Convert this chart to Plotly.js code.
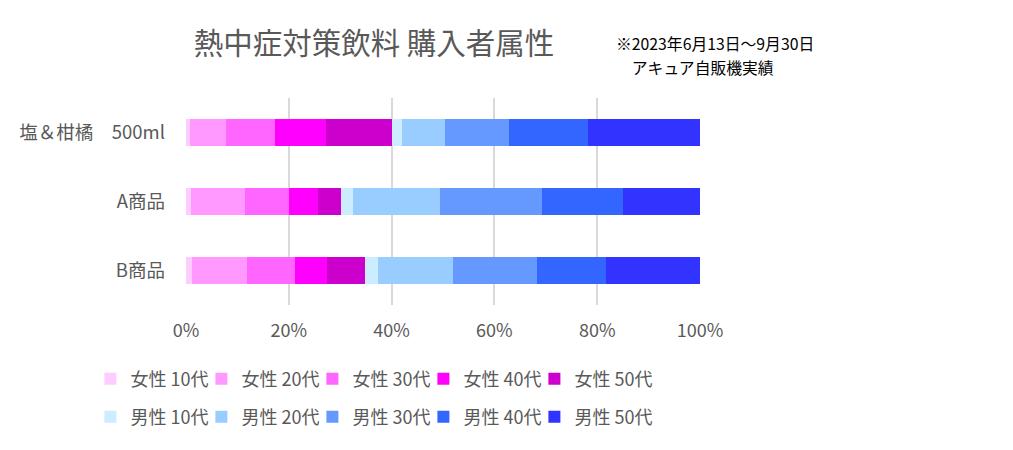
<!DOCTYPE html>
<html><head><meta charset="utf-8">
<script src="https://cdn.plot.ly/plotly-3.0.1.min.js"></script>
<style>html,body{margin:0;padding:0;background:#fff;}#chart{width:1013px;height:450px;}</style>
</head><body><div id="chart"></div>
<script>
const categories = ["塩＆柑橘　500ml", "A商品", "B商品"];
const seriesNames = ["女性 10代","女性 20代","女性 30代","女性 40代","女性 50代","男性 10代","男性 20代","男性 30代","男性 40代","男性 50代"];
const f10 = [0.7, 0.9, 1.2];
const f20 = [7.0, 10.6, 10.7];
const f30 = [9.7, 8.6, 9.3];
const f40 = [9.9, 5.6, 6.3];
const f50 = [12.8, 4.5, 7.4];
const m10 = [2.0, 2.2, 2.4];
const m20 = [8.2, 17.1, 14.6];
const m30 = [12.6, 19.7, 16.3];
const m40 = [15.4, 15.8, 13.6];
const m50 = [21.7, 15.0, 18.2];
const xTicks = [0, 20, 40, 60, 80, 100];
const xTickLabels = ["0%", "20%", "40%", "60%", "80%", "100%"];
const noteLines = ["※2023年6月13日～9月30日", "　アキュア自販機実績"];

const seriesValues = [f10,f20,f30,f40,f50,m10,m20,m30,m40,m50];
const colors = ["#FFCCFF","#FF99FF","#FF66FF","#FF00FF","#CC00CC","#CCECFF","#99CCFF","#6699FF","#3366FF","#3333FF"];

const traces = seriesValues.map((vals, i) => ({
  type: 'bar', orientation: 'h',
  x: vals, y: categories, name: seriesNames[i],
  marker: {color: colors[i], line: {width: 0}},
  legend: i < 5 ? 'legend' : 'legend2',
  hoverinfo: 'skip'
}));
// invisible zero-length spacer entries so the last legend label is not clipped
['legend', 'legend2'].forEach(lg => traces.push({
  type: 'bar', orientation: 'h', x: [0], y: [categories[0]], name: ' ',
  marker: {color: 'rgba(0,0,0,0)', line: {width: 0}}, legend: lg, hoverinfo: 'skip', showlegend: true
}));

const font = "'Noto Sans CJK JP', 'Noto Sans', sans-serif";
const legendCommon = {
  orientation: 'h', xanchor: 'left', yanchor: 'middle',
  font: {family: font, size: 18, color: '#595959'},
  entrywidth: 66, entrywidthmode: 'pixels',
  itemclick: false, itemdoubleclick: false, traceorder: 'normal',
  bgcolor: 'rgba(0,0,0,0)'
};

const T = 98, PH = 207;
const layout = {
  width: 1013, height: 450,
  margin: {l: 186, r: 313, t: T, b: 450 - T - PH},
  paper_bgcolor: '#fff', plot_bgcolor: '#fff',
  barmode: 'stack', bargap: 0.61,
  font: {family: font, color: '#595959'},
  title: {text: '熱中症対策飲料 購入者属性', font: {family: font, size: 29.5, color: '#595959'},
          x: 374/1013, xanchor: 'center', y: 1 - 44/450, yanchor: 'middle'},
  xaxis: {range: [0, 100], tickmode: 'array', tickvals: xTicks, ticktext: xTickLabels, showgrid: true,
          gridcolor: '#d9d9d9', gridwidth: 2, zeroline: false, showline: false,
          tickfont: {family: font, size: 18, color: '#595959'}, ticks: '', ticklabelstandoff: 13,
          fixedrange: true},
  yaxis: {autorange: 'reversed', showgrid: false, zeroline: false, showline: false, ticks: '',
          tickfont: {family: font, size: 18.5, color: '#595959'}, ticklabelstandoff: 20, fixedrange: true},
  legend: Object.assign({}, legendCommon, {x: -0.186, y: 1 - (379-T)/PH}),
  legend2: Object.assign({}, legendCommon, {x: -0.186, y: 1 - (417-T)/PH}),
  annotations: noteLines.map((t, i) => ({
    xref: 'paper', yref: 'paper', x: (614-186)/514, y: 1 - ([44, 67][i]-T)/PH,
    xanchor: 'left', yanchor: 'middle', align: 'left', showarrow: false,
    text: t, font: {family: font, size: 15.8, color: '#000'}
  }))
};

Plotly.newPlot('chart', traces, layout, {staticPlot: true, displayModeBar: false});
</script></body></html>
